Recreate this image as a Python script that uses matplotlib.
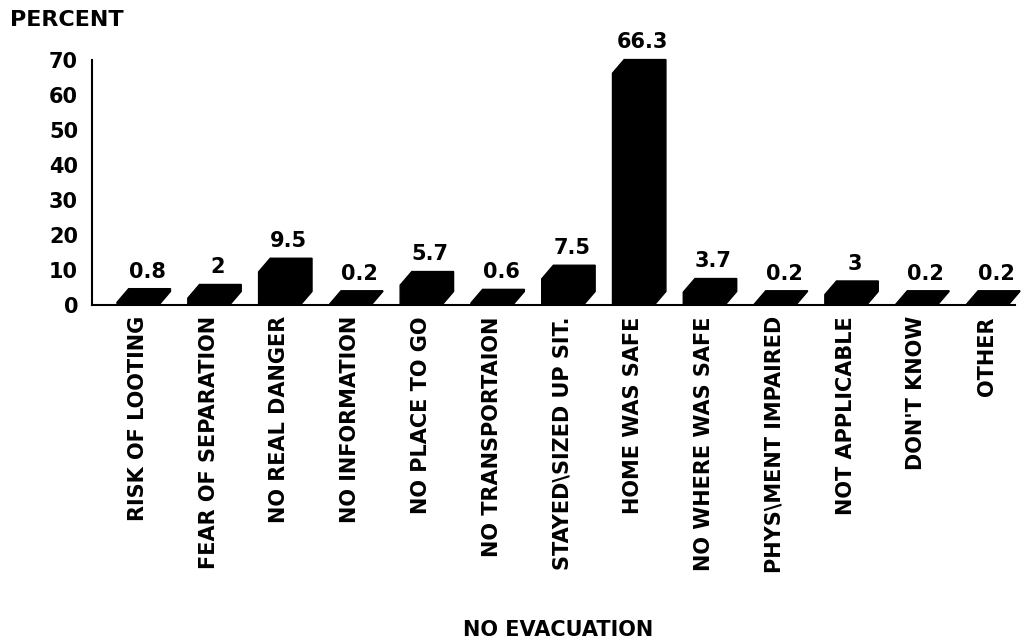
import matplotlib
matplotlib.use("Agg")
import matplotlib.pyplot as plt
from matplotlib.patches import Polygon

# reasons for not evacuating, percent of respondents
categories = ["RISK OF LOOTING", "FEAR OF SEPARATION", "NO REAL DANGER",
              "NO INFORMATION", "NO PLACE TO GO", "NO TRANSPORTAION",
              "STAYED\\SIZED UP SIT.", "HOME WAS SAFE", "NO WHERE WAS SAFE",
              "PHYS\\MENT IMPAIRED", "NOT APPLICABLE", "DON'T KNOW", "OTHER"]
percent = [0.8, 2, 9.5, 0.2, 5.7, 0.6, 7.5, 66.3, 3.7, 0.2, 3, 0.2, 0.2]
value_labels = ["0.8", "2", "9.5", "0.2", "5.7", "0.6", "7.5", "66.3",
                "3.7", "0.2", "3", "0.2", "0.2"]
yticks = [0, 10, 20, 30, 40, 50, 60, 70]

plt.rcParams['font.family'] = ['DejaVu Sans']
plt.rcParams['font.weight'] = 'bold'

fig = plt.figure(figsize=(10.21, 6.41), dpi=100)
ax = fig.add_axes([0.090, 0.524, 0.904, 0.382])

w = 0.59    # front face width
dx = 0.165  # depth offset in x
dy = 3.9    # depth offset in y (data units)

for i, v in enumerate(percent):
    x0 = i - w / 2
    x1 = i + w / 2
    pts = [(x0, 0), (x1, 0), (x1 + dx, dy), (x1 + dx, v + dy),
           (x0 + dx, v + dy), (x0, v)]
    ax.add_patch(Polygon(pts, closed=True, facecolor='black',
                         edgecolor='black', lw=1, clip_on=False))
    ax.annotate(value_labels[i], xy=(i + dx * 0.8, v + dy), xytext=(0, 8),
                textcoords='offset points', ha='center', va='baseline',
                fontsize=15, fontweight='bold', annotation_clip=False)

ax.set_xlim(-0.65, 12.39)
ax.set_ylim(0, 70)
ax.set_yticks(yticks)
ax.set_yticklabels([str(t) for t in yticks], fontsize=15, fontweight='bold')
ax.set_yticks([70], minor=True)
ax.tick_params(axis='y', which='major', length=0, pad=10)
ax.tick_params(axis='y', which='minor', direction='in', length=5, width=1.2)

ax.set_xticks(range(len(categories)))
ax.set_xticklabels(categories, rotation=90, fontsize=15, fontweight='bold',
                   va='top', ha='center')
ax.tick_params(axis='x', length=0, pad=8)

for s in ['top', 'right']:
    ax.spines[s].set_visible(False)
ax.spines['left'].set_linewidth(1.5)
ax.spines['bottom'].set_linewidth(1.5)

fig.text(0.010, 0.969, "PERCENT", fontsize=16, fontweight='bold',
         ha='left', va='center')
fig.text(0.547, 0.017, "NO EVACUATION", fontsize=15, fontweight='bold',
         ha='center', va='center')

fig.savefig("out.png", dpi=100, facecolor='white')
